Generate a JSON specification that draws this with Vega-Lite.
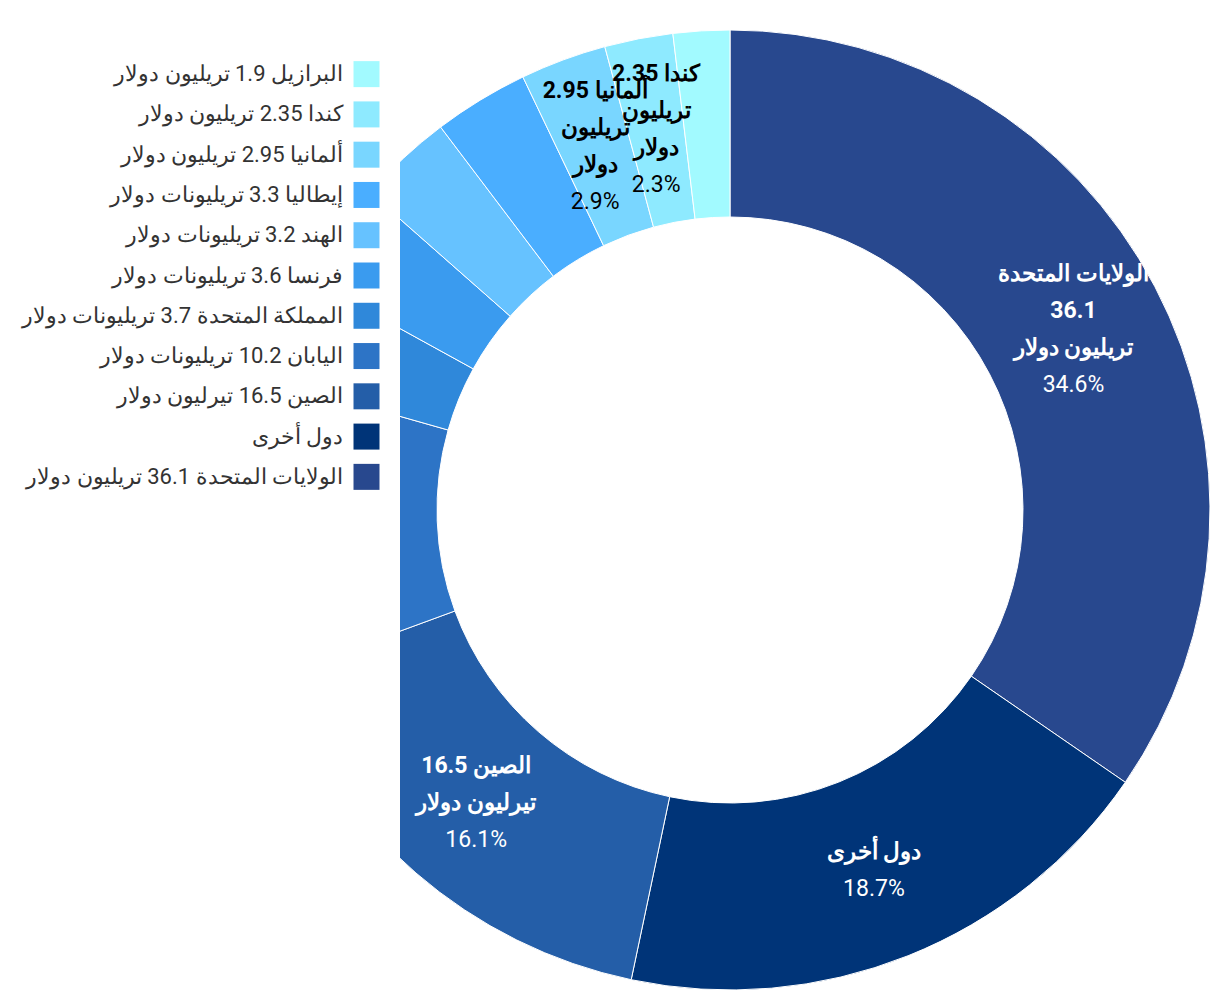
{
  "$schema": "https://vega.github.io/schema/vega-lite/v6.json",
  "background": "white",
  "padding": 0,
  "spacing": 0,
  "autosize": {"type": "pad"},
  "config": {"view": {"stroke": null}, "font": "Roboto"},
  "datasets": {
    "gdp": [
      {"idx": 0, "name": "الولايات المتحدة", "share": 34.6, "label": "الولايات المتحدة|36.1|تريليون دولار", "legend": "الولايات المتحدة 36.1 تريليون دولار"},
      {"idx": 1, "name": "دول أخرى", "share": 18.7, "label": "دول أخرى", "legend": "دول أخرى"},
      {"idx": 2, "name": "الصين", "share": 16.1, "label": "الصين 16.5|تيرليون دولار", "legend": "الصين 16.5 تيرليون دولار"},
      {"idx": 3, "name": "اليابان", "share": 10.0, "label": "", "legend": "اليابان 10.2 تريليونات دولار"},
      {"idx": 4, "name": "المملكة المتحدة", "share": 3.6, "label": "", "legend": "المملكة المتحدة 3.7 تريليونات دولار"},
      {"idx": 5, "name": "فرنسا", "share": 3.5, "label": "", "legend": "فرنسا 3.6 تريليونات دولار"},
      {"idx": 6, "name": "الهند", "share": 3.2, "label": "", "legend": "الهند 3.2 تريليونات دولار"},
      {"idx": 7, "name": "إيطاليا", "share": 3.2, "label": "", "legend": "إيطاليا 3.3 تريليونات دولار"},
      {"idx": 8, "name": "ألمانيا", "share": 2.9, "label": "ألمانيا 2.95|تريليون|دولار", "legend": "ألمانيا 2.95 تريليون دولار"},
      {"idx": 9, "name": "كندا", "share": 2.3, "label": "كندا 2.35|تريليون|دولار", "legend": "كندا 2.35 تريليون دولار"},
      {"idx": 10, "name": "البرازيل", "share": 1.9, "label": "", "legend": "البرازيل 1.9 تريليون دولار"}
    ]
  },
  "hconcat": [
    {
      "width": 400,
      "height": 1000,
      "data": {"name": "gdp"},
      "encoding": {
        "y": {"field": "name", "type": "nominal", "sort": {"field": "idx", "op": "min", "order": "descending"}, "scale": {"type": "point", "range": [54, 497]}, "axis": null}
      },
      "layer": [
        {
          "mark": {"type": "square", "size": 676, "filled": true, "opacity": 1},
          "encoding": {
            "x": {"datum": 366.5, "type": "quantitative", "scale": {"domain": [0, 400], "nice": false, "zero": false}, "axis": null},
            "color": {
              "field": "name", "type": "nominal", "legend": null,
              "scale": {
                "domain": ["الولايات المتحدة", "دول أخرى", "الصين", "اليابان", "المملكة المتحدة", "فرنسا", "الهند", "إيطاليا", "ألمانيا", "كندا", "البرازيل"],
                "range": ["#28488e", "#003478", "#245ea8", "#2d74c6", "#2f88da", "#3a9bef", "#66c2ff", "#4aaeff", "#79d6ff", "#8eeaff", "#a2faff"]
              }
            }
          }
        },
        {
          "mark": {"type": "text", "align": "right", "baseline": "middle", "fontSize": 22, "font": "Roboto", "color": "#333333"},
          "encoding": {
            "x": {"datum": 343, "type": "quantitative", "scale": {"domain": [0, 400], "nice": false, "zero": false}, "axis": null},
            "text": {"field": "legend"}
          }
        }
      ]
    },
    {
      "width": 820,
      "height": 1000,
      "data": {"name": "gdp"},
      "encoding": {
        "theta": {"field": "share", "type": "quantitative", "stack": true},
        "order": {"field": "idx", "type": "quantitative", "sort": "ascending"},
        "x": {"datum": 0, "type": "quantitative", "scale": {"domain": [-330, 490], "nice": false, "zero": false}, "axis": null},
        "y": {"datum": 0, "type": "quantitative", "scale": {"domain": [-490, 510], "nice": false, "zero": false}, "axis": null}
      },
      "layer": [
        {
          "mark": {"type": "arc", "radius": 480, "radius2": 293, "stroke": "white", "strokeWidth": 1, "clip": true},
          "encoding": {
            "color": {"field": "name", "type": "nominal", "legend": null}
          }
        },
        {
          "transform": [{"calculate": "split(datum.label, '|')", "as": "boldText"}],
          "mark": {"type": "text", "radius": 388, "fontWeight": "bold", "fontSize": 23, "lineHeight": 37, "align": "center", "baseline": "middle", "clip": true, "font": "Roboto", "dy": {"expr": "-length(datum.boldText) * 18.5"}},
          "encoding": {
            "text": {"field": "boldText"},
            "color": {"condition": {"test": "datum.share > 10", "value": "#ffffff"}, "value": "#000000"}
          }
        },
        {
          "transform": [
            {"calculate": "length(split(datum.label, '|'))", "as": "nLines"},
            {"calculate": "datum.label == '' ? '' : format(datum.share, '.1f') + '%'", "as": "pctText"}
          ],
          "mark": {"type": "text", "radius": 388, "fontWeight": "normal", "fontSize": 23, "align": "center", "baseline": "middle", "clip": true, "font": "Roboto", "dy": {"expr": "datum.nLines * 18.5"}},
          "encoding": {
            "text": {"field": "pctText"},
            "color": {"condition": {"test": "datum.share > 10", "value": "#ffffff"}, "value": "#000000"}
          }
        }
      ]
    }
  ]
}
